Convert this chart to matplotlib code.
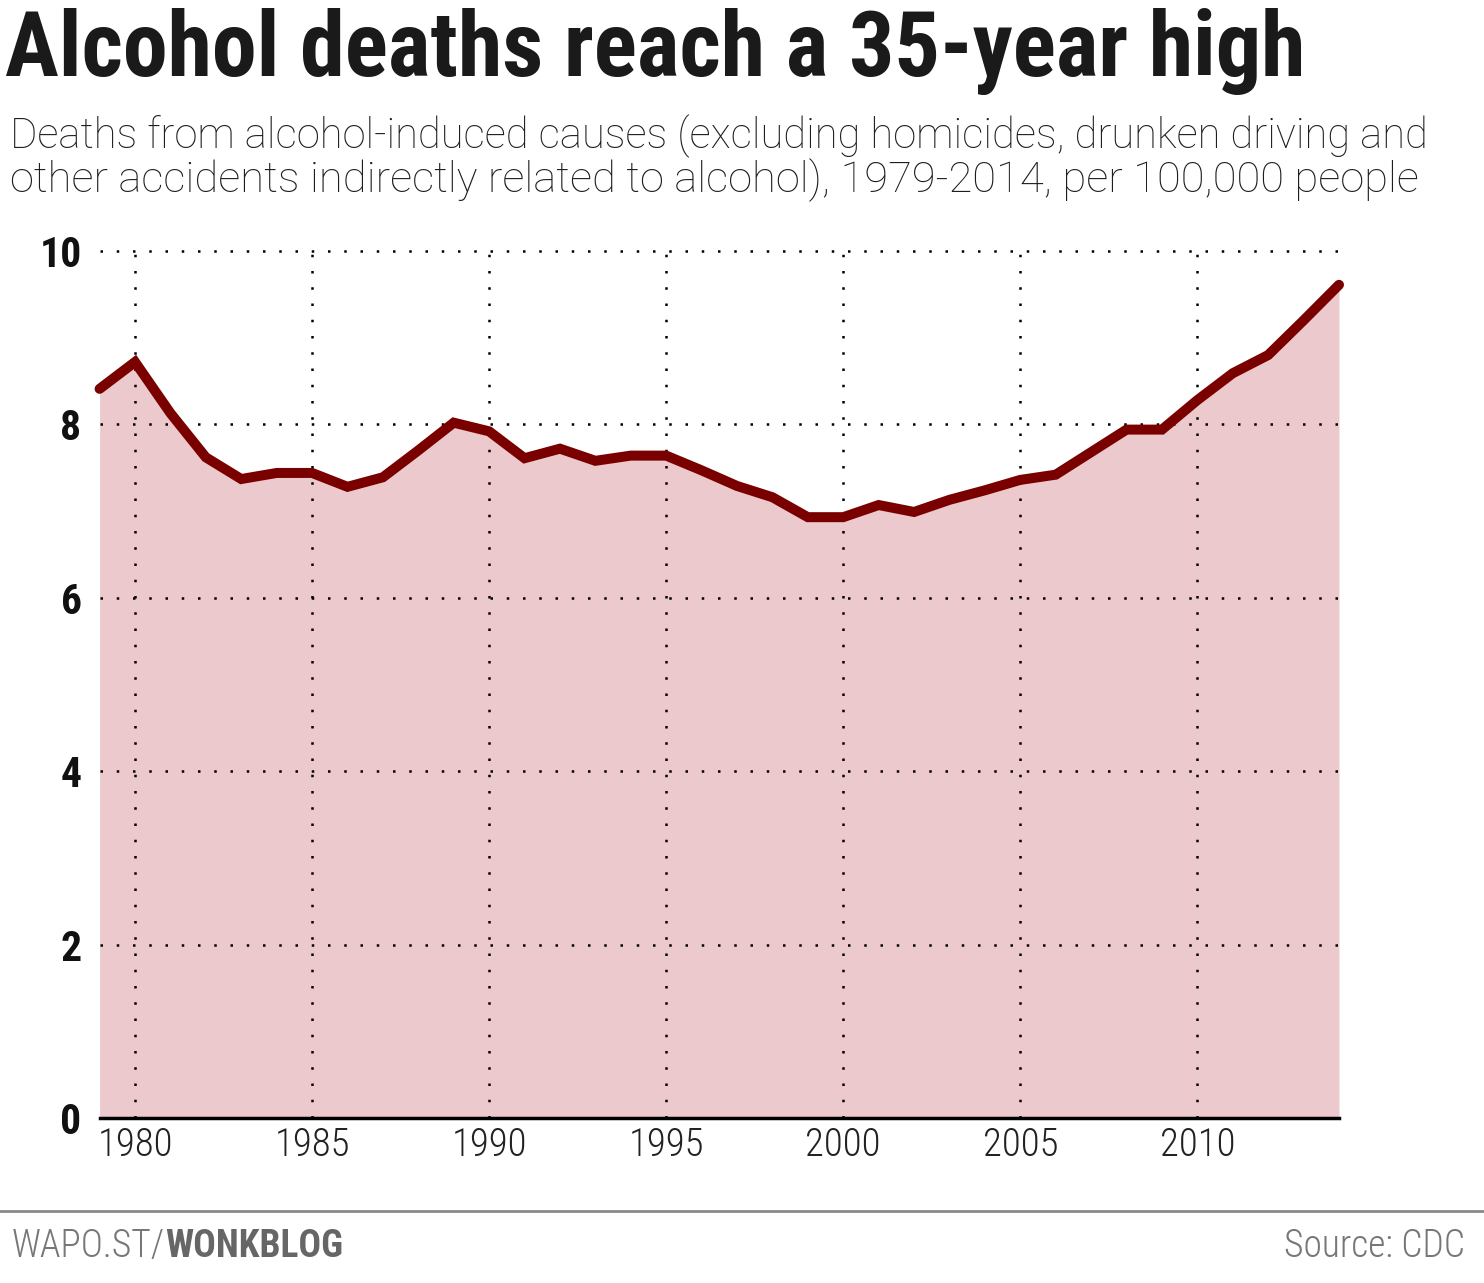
import matplotlib
matplotlib.use("Agg")
import matplotlib.pyplot as plt
from matplotlib.ticker import FixedLocator

years = list(range(1979, 2015))
rates = [8.41, 8.72, 8.13, 7.62, 7.37, 7.44, 7.44, 7.28, 7.39, 7.70,
         8.02, 7.92, 7.61, 7.72, 7.58, 7.64, 7.64, 7.47, 7.29, 7.16,
         6.93, 6.93, 7.07, 6.99, 7.13, 7.24, 7.36, 7.42, 7.68, 7.94,
         7.94, 8.28, 8.59, 8.80, 9.20, 9.61]
x_ticks = [1980, 1985, 1990, 1995, 2000, 2005, 2010]
y_ticks = [0, 2, 4, 6, 8, 10]

title = "Alcohol deaths reach a 35-year high"
subtitle1 = "Deaths from alcohol-induced causes (excluding homicides, drunken driving and"
subtitle2 = "other accidents indirectly related to alcohol), 1979-2014, per 100,000 people"

W, H = 1484, 1283
fig = plt.figure(figsize=(W / 100, H / 100), dpi=100)
fam = ['Roboto Condensed', 'Liberation Sans Narrow', 'Liberation Sans', 'DejaVu Sans']
plt.rcParams['font.family'] = fam

ax = fig.add_axes([99.6 / W, 1 - 1118 / H, (1339 - 99.6) / W, (1118 - 251) / H])
ax.set_xlim(1979, 2014)
ax.set_ylim(0, 10)
ax.fill_between(years, rates, 0, color='#ecc9cc', lw=0, zorder=1)
ax.plot(years, rates, color='#7a0000', lw=7.2, solid_capstyle='round',
        solid_joinstyle='miter', zorder=4, clip_on=False)

for yv in y_ticks[1:]:
    ax.axhline(yv, color='black', lw=1.8, ls=(0, (1, 5.5)), zorder=3, clip_on=False)
for xv in x_ticks:
    ax.axvline(xv, color='black', lw=1.8, ls=(0, (1, 5.5)), zorder=3, clip_on=False)
ax.axhline(0, color='black', lw=2.5, zorder=5, clip_on=False)

for s in ax.spines.values():
    s.set_visible(False)
ax.xaxis.set_major_locator(FixedLocator(x_ticks))
ax.yaxis.set_major_locator(FixedLocator(y_ticks))
ax.tick_params(length=0)
ax.set_xticklabels([str(v) for v in x_ticks], fontsize=28, color='#222222', fontweight='light')
ax.set_yticklabels([str(v) for v in y_ticks], fontsize=30, fontweight='bold', color='#111111')
ax.tick_params(axis='x', pad=6)
ax.tick_params(axis='y', pad=13)
ax.patch.set_alpha(0)

renderer = fig.canvas.get_renderer()

def fit_text(x, y, s, target_w, size, **kw):
    t = fig.text(x / W, 1 - y / H, s, fontsize=size, **kw)
    bb = t.get_window_extent(renderer=renderer)
    t.set_fontsize(size * target_w / bb.width)
    return t

sub_fam = ['Roboto', 'DejaVu Sans']
fit_text(5, 76, title, 1303, 50, fontweight='heavy', color='#1a1a1a', va='baseline', ha='left')
fit_text(10, 148, subtitle1, 1415, 30, family=sub_fam, fontweight='light',
         color='#1e1e1e', va='baseline', ha='left')
fit_text(10, 192, subtitle2, 1408, 30, family=sub_fam, fontweight='light',
         color='#1e1e1e', va='baseline', ha='left')

fig.add_artist(plt.Line2D([0, 1], [1 - 1211 / H, 1 - 1211 / H], color='#8a8a8a', lw=2))
t1 = fig.text(12 / W, 1 - 1257 / H, "WAPO.ST/", fontsize=27, color='#777777',
              fontweight='light', va='baseline', ha='left')
bb = t1.get_window_extent(renderer=renderer)
fig.text(bb.x1 / W, 1 - 1257 / H, "WONKBLOG", fontsize=27, fontweight='bold', color='#666666', va='baseline', ha='left')
fig.text(1465 / W, 1 - 1257 / H, "Source: CDC", fontsize=27, color='#777777',
         fontweight='light', va='baseline', ha='right')

fig.savefig("out.png", dpi=100)
